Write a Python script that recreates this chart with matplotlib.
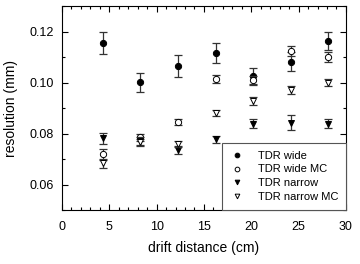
import matplotlib
matplotlib.use("Agg")
from matplotlib import pyplot as plt
from matplotlib.ticker import MultipleLocator

plt.rcParams['font.family'] = ['Liberation Sans', 'DejaVu Sans']

# drift distance positions (cm)
distance = [4.3, 8.25, 12.25, 16.25, 20.2, 24.2, 28.1]

wide = [0.1154, 0.1001, 0.1065, 0.1115, 0.1025, 0.1082, 0.1163]
wide_err = [0.0043, 0.0037, 0.0042, 0.0040, 0.0034, 0.0037, 0.0035]

wide_mc = [0.0718, 0.0785, 0.0846, 0.1013, 0.1010, 0.1125, 0.1099]
wide_mc_err = [0.0020, 0.0015, 0.0012, 0.0015, 0.0015, 0.0020, 0.0020]

narrow = [0.0781, 0.0770, 0.0735, 0.0777, 0.0838, 0.0842, 0.0838]
narrow_err = [0.0021, 0.0015, 0.0015, 0.0015, 0.0018, 0.0030, 0.0018]

narrow_mc = [0.0683, 0.0765, 0.0759, 0.0882, 0.0928, 0.0970, 0.1000]
narrow_mc_err = [0.0017, 0.0015, 0.0012, 0.0012, 0.0015, 0.0015, 0.0015]

fig = plt.figure(figsize=(3.6, 2.64), dpi=100)
ax = fig.add_axes([0.172, 0.2045, 0.789, 0.7725])

series = [
    (wide, wide_err, 'o', 'k', 'TDR wide'),
    (wide_mc, wide_mc_err, 'o', 'white', 'TDR wide MC'),
    (narrow, narrow_err, 'v', 'k', 'TDR narrow'),
    (narrow_mc, narrow_mc_err, 'v', 'white', 'TDR narrow MC'),
]
handles = []
for vals, errs, m, fc, lab in series:
    ax.errorbar(distance, vals, yerr=errs, fmt='none', ecolor='#333333',
                elinewidth=0.9, capsize=3, capthick=0.9)
    h, = ax.plot(distance, vals, linestyle='none', marker=m, markersize=4.5,
                 markerfacecolor=fc, markeredgecolor='k', markeredgewidth=0.7,
                 label=lab)
    handles.append(h)

ax.set_xlim(0, 30)
ax.set_ylim(0.05, 0.13)
ax.xaxis.set_major_locator(MultipleLocator(5))
ax.xaxis.set_minor_locator(MultipleLocator(1))
ax.yaxis.set_major_locator(MultipleLocator(0.02))
ax.yaxis.set_minor_locator(MultipleLocator(0.01))
ax.yaxis.set_major_formatter(plt.FormatStrFormatter('%.2f'))

ax.tick_params(which='both', direction='in', top=True, right=True,
               labelsize=9, width=0.8)
# left ticks point outward, the rest inward
for t in ax.yaxis.get_majorticklines()[0::2] + ax.yaxis.get_minorticklines()[0::2]:
    t.set_marker(matplotlib.lines.TICKLEFT)
ax.tick_params(which='major', length=4)
ax.tick_params(which='minor', length=2)
ax.tick_params(axis='x', pad=8)
ax.tick_params(axis='y', pad=6)

for s in ax.spines.values():
    s.set_linewidth(0.8)

ax.set_xlabel('drift distance (cm)', fontsize=10, labelpad=6)
ax.set_ylabel('resolution (mm)', fontsize=10, labelpad=8)

leg = ax.legend(handles=handles, loc='lower right', bbox_to_anchor=(1, 0),
                borderaxespad=0, fontsize=8, markerscale=0.75,
                handlelength=1.3, handletextpad=1.2, labelspacing=0.35,
                borderpad=0.7, fancybox=False, edgecolor='#555555',
                framealpha=1)
leg.get_frame().set_linewidth(0.8)

fig.savefig('out.png', dpi=100)
